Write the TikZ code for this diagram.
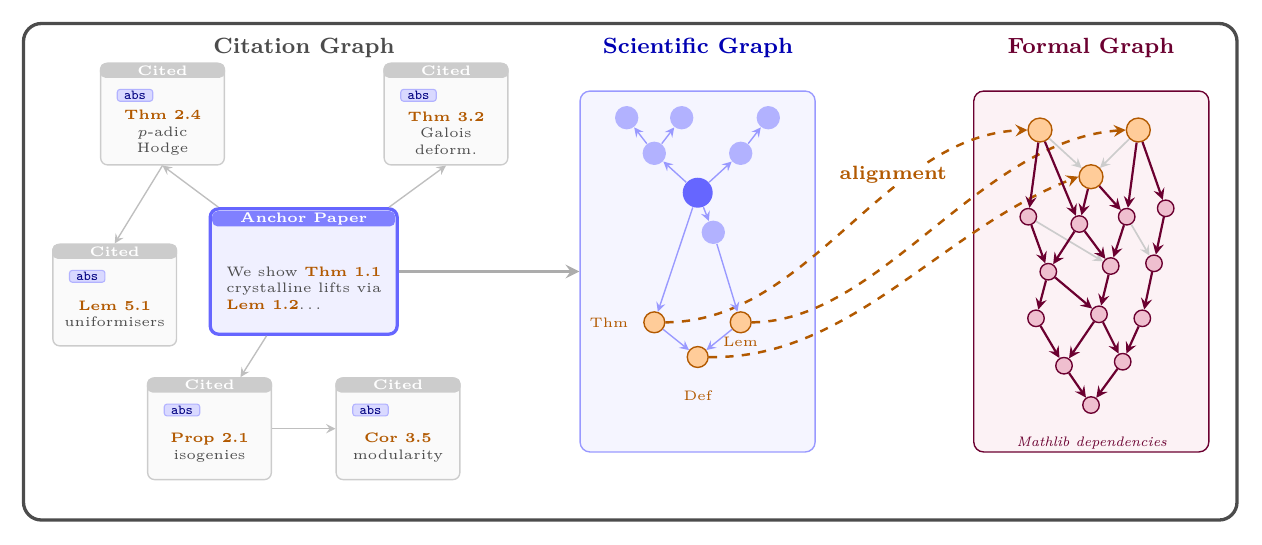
\documentclass[tikz,border=0pt]{standalone}
\usepackage{tikz}
\usetikzlibrary{positioning,backgrounds}

\definecolor{formal}{RGB}{107,0,48}
\newcommand{\stmt}[1]{\textcolor{orange!70!black}{\textbf{#1}}}

\begin{document}
\begin{tikzpicture}[
  x=0.01278cm, y=-0.01278cm,
  >=stealth,
  graphtitle/.style = {font=\footnotesize\bfseries},
  cited/.style = {
    draw=gray!40, fill=gray!4, rectangle, rounded corners=2.5pt,
    line width=0.5pt, minimum width=45pt, minimum height=37pt
  },
  citedhead/.style = {
    fill=gray!40, rounded corners=2pt, anchor=north, inner sep=0pt,
    minimum width=45.5pt, minimum height=5.4pt,
    text=white, font=\tiny\bfseries
  },
  abstag/.style = {
    draw=blue!30, fill=blue!15, rounded corners=1pt, anchor=north west,
    inner sep=0.5pt, minimum width=12.9pt, minimum height=4.3pt,
    text=blue!50!black, font=\tiny\ttfamily
  },
  citedtext/.style = {align=center, font=\tiny, text=black!70, inner sep=0pt},
  paperbox/.style = {
    draw=blue!60, fill=blue!6, line width=1.2pt, rounded corners=3pt,
    minimum width=68pt, minimum height=45.6pt
  },
  paperhead/.style = {
    fill=blue!50, rounded corners=2pt, anchor=north, inner sep=0pt,
    minimum width=66.6pt, minimum height=5.6pt,
    text=white, font=\tiny\bfseries
  },
  cedge/.style = {->, gray!50, line width=0.5pt},
  graphbox/.style = {rectangle, rounded corners=3.6pt, line width=0.5pt,
    minimum width=85.5pt, minimum height=131.3pt},
  sbig/.style = {circle, fill=blue!60, minimum size=10.9pt, inner sep=0pt},
  slight/.style = {circle, fill=blue!30, minimum size=8.5pt, inner sep=0pt},
  sstmt/.style = {circle, draw=orange!70!black, fill=orange!40,
    line width=0.5pt, minimum size=7.6pt, inner sep=0pt},
  slabel/.style = {font=\tiny, text=orange!70!black},
  sedge/.style = {->, blue!40, line width=0.5pt},
  fstmt/.style = {circle, draw=orange!70!black, fill=orange!40,
    line width=0.5pt, minimum size=8.7pt, inner sep=0pt},
  fdep/.style = {circle, draw=formal, fill=purple!25,
    line width=0.5pt, minimum size=6pt, inner sep=0pt},
  fedge/.style = {->, formal, line width=0.8pt},
  fweak/.style = {->, gray!40, line width=0.6pt},
  matchline/.style = {->, dashed, orange!70!black, line width=0.9pt}
]

\useasboundingbox (0,0) rectangle (1262,544);

\begin{scope}[on background layer]
  \draw[black!70, line width=1.2pt, rounded corners=6.5pt]
    (23.5,23.5) rectangle (1237,520);
  \node[graphbox, draw=blue!40, fill=blue!4] (sci) at (697.6,271.5) {};
  \node[graphbox, draw=formal, fill=purple!5] (formal) at (1091.3,271.5) {};
\end{scope}

% titles
\node[graphtitle, text=black!70] (cit-title) at (304,48) {Citation Graph};
\node[graphtitle, text=blue!70!black] (sci-title) at (698,48) {Scientific Graph};
\node[graphtitle, text=formal] (formal-title) at (1091,48) {Formal Graph};

% citation graph
\foreach \n/\x/\y/\res/\desc in {
    thm24/162.5/114/Thm 2.4/{$p$-adic\\Hodge},
    thm32/446/114/Thm 3.2/{Galois\\deform.},
    lem51/114.7/295/Lem 5.1/uniformisers,
    prop21/209.5/428.7/Prop 2.1/isogenies,
    cor35/398/428.7/Cor 3.5/modularity} {
  \node[cited] (\n) at (\x,\y) {};
  \node[citedhead] (\n-head) at (\n.north) {Cited};
  \node[abstag] (\n-abs) at ([xshift=6.1pt, yshift=-9.6pt]\n.north west) {abs};
  \node[citedtext] (\n-txt) at ([yshift=-6.9pt]\n.center) {\stmt{\res}\\\desc};
}

\node[paperbox] (paper) at (303.7,271.5) {};
\node[paperhead] (paper-head) at ([yshift=-1.2pt]paper.north) {Anchor Paper};
\node[citedtext, anchor=west, align=left] (paper-txt) at (225.7,288)
  {We show \stmt{Thm 1.1}\\crystalline lifts via\\\stmt{Lem 1.2}.\hspace{1pt}.\hspace{1pt}.};

\draw[cedge] (paper.143) -- (thm24.south);
\draw[cedge] (paper.37) -- (thm32.south);
\draw[cedge] (thm24.south) -- (lem51.north);
\draw[cedge] (paper.240) -- (prop21.59);
\draw[cedge] (prop21.east) -- (cor35.west);
\draw[->, gray!65, line width=1.2pt] (paper.east) -- (sci.west);

% scientific graph
\node[sbig] (s0) at (697.7,192.7) {};
\node[slight] (s1) at (654.3,153.3) {};
\node[slight] (s2) at (740.7,153.3) {};
\node[slight] (s3) at (626.7,117.7) {};
\node[slight] (s4) at (681.7,117.7) {};
\node[slight] (s5) at (768.3,117.7) {};
\node[slight] (s6) at (713.3,232.3) {};
\node[sstmt] (thm) at (654.3,322.3) {};
\node[sstmt] (lem) at (740.7,322.3) {};
\node[sstmt] (def) at (697.7,357) {};

\node[slabel] (thm-lbl) at (609,322.3) {Thm};
\node[slabel] (lem-lbl) at (740.5,342) {Lem};
\node[slabel] (def-lbl) at (697.7,396) {Def};

\draw[sedge] (s0) -- (s1);
\draw[sedge] (s1) -- (s3);
\draw[sedge] (s1) -- (s4);
\draw[sedge] (s0) -- (s2);
\draw[sedge] (s2) -- (s5);
\draw[sedge] (s0) -- (s6);
\draw[sedge] (s0) -- (thm);
\draw[sedge] (s6) -- (lem);
\draw[sedge] (thm) -- (def);
\draw[sedge] (lem) -- (def);

% formal graph
\node[fstmt] (o1) at (1040,130) {};
\node[fstmt] (o2) at (1138.3,130) {};
\node[fstmt] (o3) at (1091,176.7) {};
\node[fdep] (fa1) at (1028.3,216.7) {};
\node[fdep] (fa2) at (1079.3,224) {};
\node[fdep] (fa3) at (1126.7,216.7) {};
\node[fdep] (fa4) at (1165.7,208.3) {};
\node[fdep] (fb1) at (1048.3,271.7) {};
\node[fdep] (fb2) at (1110.7,266) {};
\node[fdep] (fb3) at (1154,263.3) {};
\node[fdep] (fc1) at (1036,318.3) {};
\node[fdep] (fc2) at (1099,314.3) {};
\node[fdep] (fc3) at (1142.3,318.3) {};
\node[fdep] (fd1) at (1064,365.7) {};
\node[fdep] (fd2) at (1122.7,361.7) {};
\node[fdep] (fe1) at (1091,405) {};

\draw[fweak] (o1) -- (o3);
\draw[fweak] (o2) -- (o3);
\draw[fweak] (fa1) -- (fb2);
\draw[fweak] (fa3) -- (fb3);

\draw[fedge] (o1) -- (fa1);
\draw[fedge] (o1) -- (fa2);
\draw[fedge] (o2) -- (fa3);
\draw[fedge] (o2) -- (fa4);
\draw[fedge] (o3) -- (fa2);
\draw[fedge] (o3) -- (fa3);
\draw[fedge] (fa1) -- (fb1);
\draw[fedge] (fa2) -- (fb1);
\draw[fedge] (fa2) -- (fb2);
\draw[fedge] (fa3) -- (fb2);
\draw[fedge] (fa4) -- (fb3);
\draw[fedge] (fb1) -- (fc1);
\draw[fedge] (fb1) -- (fc2);
\draw[fedge] (fb2) -- (fc2);
\draw[fedge] (fb3) -- (fc3);
\draw[fedge] (fc1) -- (fd1);
\draw[fedge] (fc2) -- (fd1);
\draw[fedge] (fc2) -- (fd2);
\draw[fedge] (fc3) -- (fd2);
\draw[fedge] (fd1) -- (fe1);
\draw[fedge] (fd2) -- (fe1);

\node[font=\tiny\itshape, text=formal] (mathlib) at (1091.7,443) {Mathlib dependencies};

% alignment
\begin{scope}[on background layer]
  \draw[matchline] (thm.east) .. controls (810,322) and (885,135) .. (o1.west);
  \draw[matchline] (lem.east) .. controls (880,322) and (980,140) .. (o2.west);
  \draw[matchline] (def.east) .. controls (850,360) and (940,230) .. (o3.west);
\end{scope}
\node[font=\scriptsize\bfseries, text=orange!70!black, fill=white, inner sep=1pt]
  (align-lbl) at (893.3,175) {alignment};

\end{tikzpicture}
\end{document}
